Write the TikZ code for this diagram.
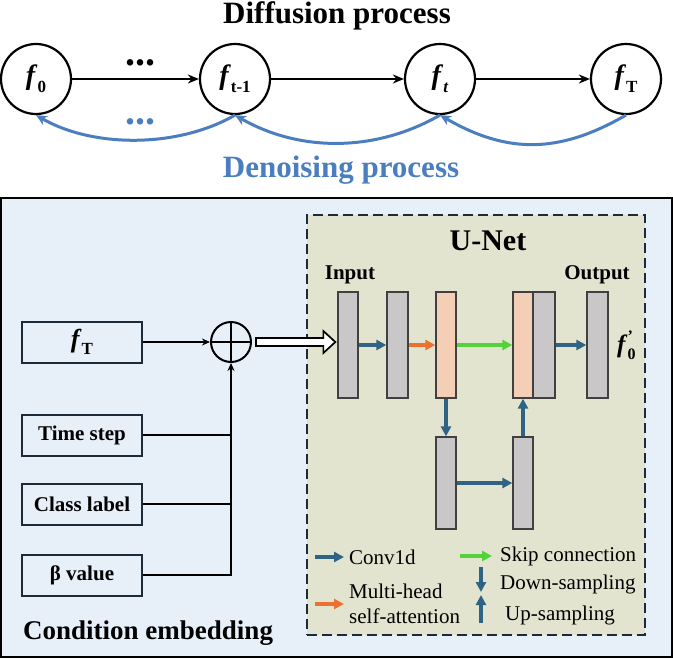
\documentclass[tikz,border=0pt]{standalone}
\usepackage{fontspec}
\setmainfont{Liberation Serif}
\usepackage{xcolor}
\usepackage{tikz}
\usetikzlibrary{arrows.meta,positioning}
\newcommand{\fsym}[2][17]{\textbf{\textit{f}}\raisebox{-0.28em}{\fontsize{#1}{#1}\selectfont\textbf{#2}}}
\definecolor{denoblue}{HTML}{4A7EBF}
\definecolor{convblue}{HTML}{2F6383}
\definecolor{attnorange}{HTML}{EA7130}
\definecolor{skipgreen}{HTML}{52D33C}
\definecolor{blockgrey}{HTML}{C9C7C8}
\definecolor{blockpeach}{HTML}{F4CFB6}
\definecolor{unetfill}{HTML}{E3E4CF}
\definecolor{condfill}{HTML}{E7EFF8}
\definecolor{framenavy}{HTML}{1C2B3A}

\begin{document}
\begin{tikzpicture}[
  x=1pt,y=1pt,
  font=\fontsize{21}{24}\selectfont,
  state/.style={circle,draw,line width=2.2pt,minimum size=70pt,inner sep=0pt,
                font=\fontsize{28}{30}\selectfont},
  fwd/.style={-{Stealth[length=11pt,width=9pt]},line width=2.8pt},
  bwd/.style={-{Stealth[length=11pt,width=10pt]},denoblue,line width=3pt},
  inbox/.style={draw=framenavy,line width=2pt,minimum width=120pt,minimum height=41pt,
                inner sep=0pt,font=\bfseries\fontsize{21}{24}\selectfont},
  blk/.style={draw=black!75,line width=1.3pt,fill=blockgrey,minimum width=20pt,
              minimum height=106pt,inner sep=0pt},
  att/.style={blk,fill=blockpeach},
  low/.style={blk,minimum height=92pt},
  cv/.style={-{Triangle[length=10pt,width=10pt]},convblue,line width=3.5pt},
  ma/.style={cv,attnorange},
  sk/.style={cv,skipgreen},
  ar/.style={-{Stealth[length=8pt,width=7pt]},line width=1.8pt},
  hollow/.style={draw,fill=white,line width=1.7pt,line join=miter},
  leg/.style={anchor=west,inner sep=0pt,align=left}
]
\useasboundingbox (0,0) rectangle (673,-659);

\node[anchor=base,font=\bfseries\fontsize{31}{34}\selectfont] (diff) at (337,-23) {Diffusion process};
\node[state] (f0)  at (36,-79)  {\fsym{0}};
\node[state] (ft1) at (235,-79) {\fsym{t-1}};
\node[state] (ft)  at (440,-79) {\fsym{\textit{t}}};
\node[state] (fT)  at (626,-79) {\fsym{T}};
\draw[fwd] (f0)  -- (ft1);
\draw[fwd] (ft1) -- (ft);
\draw[fwd] (ft)  -- (fT);
\node[font=\bfseries\fontsize{40}{40}\selectfont] (dotsf) at (140,-63) {...};
\node[font=\bfseries\fontsize{40}{40}\selectfont,text=denoblue] (dotsb) at (140,-122) {...};
\draw[bwd] (ft1.south) to[out=-150,in=-30,looseness=0.85] (f0.south);
\draw[bwd] (ft.south)  to[out=-150,in=-30,looseness=0.93] (ft1.south);
\draw[bwd] (fT.south)  to[out=-150,in=-30,looseness=1.07] (ft.south);
\node[anchor=base,text=denoblue,font=\bfseries\fontsize{31}{34}\selectfont] (deno) at (341,-177) {Denoising process};

\node[draw,line width=2pt,fill=condfill,minimum width=671pt,minimum height=459pt,inner sep=0pt]
  (cond) at (336.5,-427.5) {};
\node[draw=framenavy,dash pattern=on 10pt off 5pt,line width=2pt,fill=unetfill,
      minimum width=338pt,minimum height=420pt,inner sep=0pt] (unet) at (476,-425) {};
\node[anchor=base,font=\bfseries\fontsize{30}{32}\selectfont] (unettl) at (488,-250) {U-Net};
\node[anchor=base,font=\bfseries\fontsize{21}{24}\selectfont] (inlbl)  at (350,-279) {Input};
\node[anchor=base,font=\bfseries\fontsize{21}{24}\selectfont] (outlbl) at (597,-279) {Output};

\node[blk] (in1) at (348,-345) {};
\node[blk,minimum width=21pt] (c1) at (397.5,-345) {};
\node[att] (a1) at (446,-345) {};
\node[att] (a2) at (523,-345) {};
\node[blk,minimum width=22pt] (c2) at (544,-345) {};
\node[blk,minimum width=21pt] (out) at (597.5,-345) {};
\node[low] (d1) at (446,-483) {};
\node[low] (u1) at (523,-483) {};
\draw[cv] (in1) -- (c1);
\draw[ma] (c1) -- (a1);
\draw[sk] (a1) -- (a2);
\draw[cv] (c2) -- (out);
\draw[cv] (a1) -- (d1);
\draw[cv] (d1) -- (u1);
\draw[cv] (u1) -- (a2);
\node[right=5pt of out,font=\fontsize{25}{27}\selectfont] (fout)
  {\textbf{\textit{f}}\rlap{\raisebox{0.45em}{\fontsize{16}{16}\selectfont\textbf{’}}}\raisebox{-0.28em}{\fontsize{16}{16}\selectfont\textbf{0}}};

\node[inbox,font=\fontsize{26}{28}\selectfont] (fTin) at (82,-342) {\fsym{T}};
\node[inbox] (time) at (82,-435) {Time step};
\node[inbox] (cls)  at (82,-504) {Class label};
\node[inbox] (beta) at (82,-575) {β value};
\node[circle,draw,line width=2pt,minimum size=40pt,inner sep=0pt] (sum) at (231,-342) {};
\draw[line width=2pt] (sum.north) -- (sum.south) (sum.west) -- (sum.east);
\coordinate (join) at (beta.east -| sum.south);
\draw[ar] (fTin) -- (sum);
\draw[ar] (beta.east) -- (join) -- (sum.south);
\draw[line width=1.8pt] (time.east) -- (time.east -| sum.south);
\draw[line width=1.8pt] (cls.east) -- (cls.east -| sum.south);
\coordinate (tip) at ([xshift=-2pt]in1.west |- sum.east);
\draw[hollow] ([xshift=4pt,yshift=4pt]sum.east) -- ([xshift=-12pt,yshift=4pt]tip)
  -- ([xshift=-12pt,yshift=11pt]tip) -- (tip) -- ([xshift=-12pt,yshift=-11pt]tip)
  -- ([xshift=-12pt,yshift=-4pt]tip) -- ([xshift=4pt,yshift=-4pt]sum.east) -- cycle;
\node[anchor=base west,inner sep=0pt,font=\bfseries\fontsize{27}{30}\selectfont] (condlbl)
  at (23,-639) {Condition embedding};

\node[leg] (lconv) at (349,-557) {Conv1d};
\draw[cv] ([xshift=-34pt]lconv.west) -- ([xshift=-5pt]lconv.west);
\node[leg,font=\fontsize{21}{25}\selectfont] (lattn) at (349,-604) {Multi-head\\self-attention};
\draw[ma] ([xshift=-34pt]lattn.west) -- ([xshift=-5pt]lattn.west);
\node[leg] (lskip) at (500,-556) {Skip connection};
\draw[sk] ([xshift=-40pt]lskip.west) -- ([xshift=-8pt]lskip.west);
\node[leg] (ldown) at (500,-584) {Down-sampling};
\draw[cv] ([xshift=-19pt,yshift=17pt]ldown.west) -- ([xshift=-19pt,yshift=-8pt]ldown.west);
\node[leg] (lup) at (505,-615) {Up-sampling};
\draw[cv] ([xshift=-24pt,yshift=-8pt]lup.west) -- ([xshift=-24pt,yshift=20pt]lup.west);
\end{tikzpicture}
\end{document}
